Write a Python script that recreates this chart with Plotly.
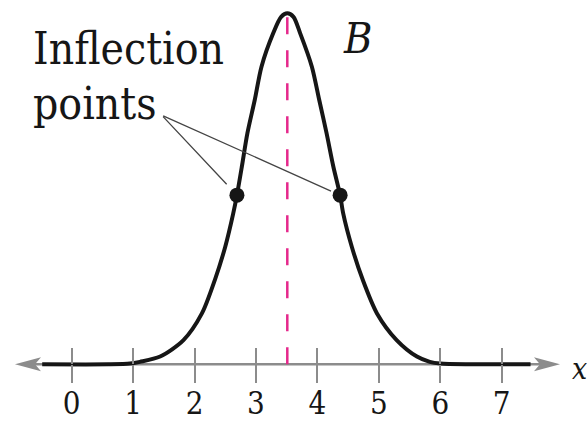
import plotly.graph_objects as go

# ---- data -------------------------------------------------------------
# Bell curve B, sampled along the x axis (relative height, peak = 1)
curve_x = [-0.48, 0.60, 0.95, 1.11, 1.44, 1.82, 2.12, 2.33, 2.50, 2.63, 2.69,
           2.77, 2.86, 2.98, 3.09, 3.28, 3.41, 3.51, 3.61, 3.72, 3.91, 4.03,
           4.15, 4.26, 4.37, 4.42, 4.56, 4.74, 4.97, 5.29, 5.62, 5.83, 6.00,
           6.50, 7.47]
curve_y = [0.000, 0.000, 0.002, 0.007, 0.022, 0.069, 0.145, 0.240, 0.335, 0.430, 0.482,
           0.563, 0.658, 0.753, 0.848, 0.943, 0.990, 1.000, 0.990, 0.943, 0.848, 0.753,
           0.658, 0.563, 0.482, 0.430, 0.335, 0.240, 0.145, 0.069, 0.022, 0.007, 0.002,
           0.000, 0.000]

# Marked inflection points
inflection_x = [2.69, 4.37]
inflection_y = [0.482, 0.482]

# Axis of symmetry
mean_x = 3.51
peak_y = 1.0

# Number-line ticks
tick_vals = [0, 1, 2, 3, 4, 5, 6, 7]
tick_text = ["0", "1", "2", "3", "4", "5", "6", "7"]

# ---- layout constants ---------------------------------------------------
X_RANGE = [-1.167, 8.389]
Y_RANGE = [-0.173, 1.038]
AXIS_LEFT, AXIS_RIGHT = -0.923, 7.949
GRAY = "#8c8c8c"
INK = "#161616"
PINK = "#e5288c"
SERIF = "DejaVu Serif Condensed, DejaVu Serif"

axis_pos = (0 - Y_RANGE[0]) / (Y_RANGE[1] - Y_RANGE[0])

fig = go.Figure()

# dashed line at the mean, drawn upward from the axis
fig.add_trace(go.Scatter(
    x=[mean_x, mean_x], y=[0, peak_y], mode="lines",
    line=dict(color=PINK, width=2.5, dash="17px,16px"),
    hoverinfo="skip", showlegend=False))

# the curve
fig.add_trace(go.Scatter(
    x=curve_x, y=curve_y, mode="lines",
    line=dict(color=INK, width=4, shape="spline", smoothing=0.8),
    hoverinfo="skip", showlegend=False, cliponaxis=False))

# inflection dots
fig.add_trace(go.Scatter(
    x=inflection_x, y=inflection_y, mode="markers",
    marker=dict(color=INK, size=15),
    hoverinfo="skip", showlegend=False))

# invisible trace so the upper tick axis is rendered
fig.add_trace(go.Scatter(x=[0], y=[0], xaxis="x2", mode="markers",
                         marker=dict(opacity=0), hoverinfo="skip",
                         showlegend=False))

shapes = [
    dict(type="line", xref="x", yref="y", x0=AXIS_LEFT + 0.1, x1=AXIS_RIGHT - 0.1,
         y0=0, y1=0, line=dict(color=GRAY, width=2.5), layer="below"),
    dict(type="path", xref="x", yref="y", xsizemode="pixel", ysizemode="pixel",
         xanchor=AXIS_LEFT, yanchor=0,
         path="M0,0 L26,7 L20,0 L26,-7 Z",
         fillcolor=GRAY, line=dict(width=0), layer="below"),
    dict(type="path", xref="x", yref="y", xsizemode="pixel", ysizemode="pixel",
         xanchor=AXIS_RIGHT, yanchor=0,
         path="M0,0 L-26,7 L-20,0 L-26,-7 Z",
         fillcolor=GRAY, line=dict(width=0), layer="below"),
]

# leader lines from the label to each dot
tail_x, tail_y = 1.465, 0.710
annotations = [
    dict(x=inflection_x[0], y=inflection_y[0], ax=tail_x, ay=tail_y,
         axref="x", ayref="y", xref="x", yref="y", text="", showarrow=True,
         arrowhead=0, arrowwidth=1.3, arrowcolor="#444444", standoff=15),
    dict(x=inflection_x[1], y=inflection_y[1], ax=tail_x, ay=tail_y,
         axref="x", ayref="y", xref="x", yref="y", text="", showarrow=True,
         arrowhead=0, arrowwidth=1.3, arrowcolor="#444444", standoff=10),
    dict(x=-0.667, y=0.899, xref="x", yref="y", text="Inflection",
         showarrow=False, xanchor="left", yanchor="middle",
         font=dict(family=SERIF, size=44, color=INK)),
    dict(x=-0.667, y=0.742, xref="x", yref="y", text="points",
         showarrow=False, xanchor="left", yanchor="middle",
         font=dict(family=SERIF, size=44, color=INK)),
    dict(x=4.652, y=0.930, xref="x", yref="y", text="<i>B</i>",
         showarrow=False, xanchor="center", yanchor="middle",
         font=dict(family=SERIF, size=43, color=INK)),
    dict(x=8.11, y=-0.013, xref="x", yref="y", text="<i>x</i>",
         showarrow=False, xanchor="left", yanchor="middle",
         font=dict(family=SERIF, size=30, color=INK)),
]

fig.update_layout(
    width=587, height=425,
    margin=dict(l=0, r=0, t=0, b=0, autoexpand=False),
    paper_bgcolor="white", plot_bgcolor="white",
    showlegend=False,
    font=dict(family=SERIF),
    shapes=shapes, annotations=annotations,
    xaxis=dict(range=X_RANGE, anchor="free", position=axis_pos,
               tickvals=tick_vals, ticktext=tick_text,
               ticks="outside", ticklen=18, tickwidth=2, tickcolor=GRAY,
               ticklabelstandoff=-6, automargin=False,
               tickfont=dict(family=SERIF, size=31, color=INK),
               showline=False, showgrid=False, zeroline=False,
               fixedrange=True),
    xaxis2=dict(range=X_RANGE, overlaying="x", anchor="free", position=axis_pos,
                side="bottom", tickvals=tick_vals, ticks="inside", ticklen=16,
                tickwidth=2, tickcolor=GRAY, showticklabels=False,
                automargin=False,
                showline=False, showgrid=False, zeroline=False,
                fixedrange=True),
    yaxis=dict(range=Y_RANGE, visible=False, showgrid=False, zeroline=False,
               automargin=False, fixedrange=True),
)

fig.write_html("out.html", config={"displayModeBar": False})
